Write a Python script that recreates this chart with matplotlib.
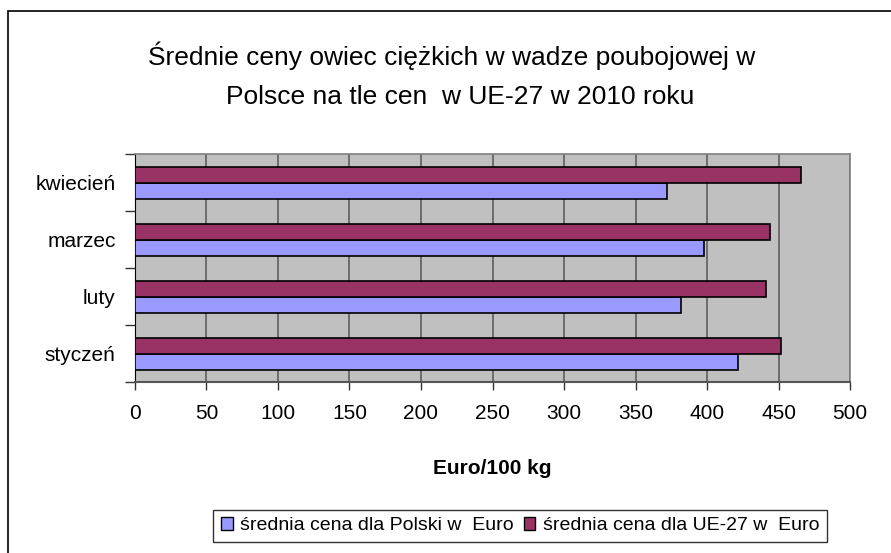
import matplotlib
matplotlib.use("Agg")
import matplotlib.pyplot as plt
import numpy as np
from matplotlib.patches import Patch, Rectangle

plt.rcParams['font.family'] = ['Liberation Sans', 'DejaVu Sans']

# dane (Euro/100 kg)
miesiace = ['styczeń', 'luty', 'marzec', 'kwiecień']
cena_polska = [422, 382, 398, 372]
cena_ue27 = [452, 441, 444, 466]

etykieta_pl = 'średnia cena dla Polski w  Euro'
etykieta_ue = 'średnia cena dla UE-27 w  Euro'

kolor_pl = '#9999FF'
kolor_ue = '#993366'

fig = plt.figure(figsize=(8.91, 5.53), dpi=100)
ax = fig.add_axes([0.1515, 0.309, 0.8025, 0.412])

y = np.arange(len(miesiace))
h = 0.28
ax.barh(y - h / 2, cena_polska, height=h, color=kolor_pl, edgecolor='black',
        linewidth=1.2, zorder=3)
ax.barh(y + h / 2, cena_ue27, height=h, color=kolor_ue, edgecolor='black',
        linewidth=1.2, zorder=3)

ax.set_facecolor('#C0C0C0')
ax.set_xlim(0, 500)
ax.set_ylim(-0.5, len(miesiace) - 0.5)
ax.set_xticks(np.arange(0, 501, 50))
ax.xaxis.grid(True, color='#555555', linewidth=1.1, zorder=1)
ax.set_axisbelow(True)

ax.set_yticks(y)
ax.set_yticklabels(miesiace)
ax.set_yticks(np.arange(-0.5, len(miesiace), 1), minor=True)
ax.tick_params(axis='y', which='major', length=0, pad=14, labelsize=15)
ax.tick_params(axis='y', which='minor', length=7, width=1, color='#333333')
ax.tick_params(axis='x', length=6, width=1, color='#333333', pad=10, labelsize=15)

for s in ['top', 'right']:
    ax.spines[s].set_color('#808080')
    ax.spines[s].set_linewidth(1.2)
ax.spines['left'].set_color('black')
ax.spines['bottom'].set_color('#555555')
ax.spines['bottom'].set_linewidth(1.5)

ax.set_xlabel('Euro/100 kg', fontsize=15, fontweight='bold', labelpad=26)

fig.text(0.507, 0.900, 'Średnie ceny owiec ciężkich w wadze poubojowej w',
         ha='center', va='center', fontsize=19)
fig.text(0.516, 0.825, 'Polsce na tle cen  w UE-27 w 2010 roku',
         ha='center', va='center', fontsize=19)

uchwyty = [Patch(facecolor=kolor_pl, edgecolor='black', label=etykieta_pl),
           Patch(facecolor=kolor_ue, edgecolor='black', label=etykieta_ue)]
leg = fig.legend(handles=uchwyty, loc='center', bbox_to_anchor=(0.584, 0.049),
                 ncol=2, fontsize=14, frameon=True, fancybox=False,
                 edgecolor='black', handlelength=0.6, handleheight=0.6,
                 handletextpad=0.4, columnspacing=0.5, borderpad=0.4)
leg.get_frame().set_linewidth(1.0)

# ramka wokół całego wykresu
fig.patches.append(Rectangle((0.009, -0.1), 1.2, 1.08, transform=fig.transFigure,
                             fill=False, edgecolor='black', linewidth=1.2))

fig.savefig('out.png', dpi=100)
